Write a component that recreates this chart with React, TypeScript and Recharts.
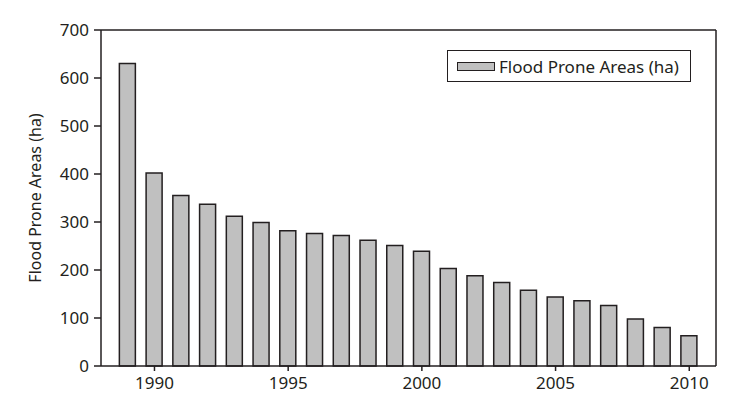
import { BarChart, Bar, XAxis, YAxis, ReferenceLine } from 'recharts'

const years = [
  1989, 1990, 1991, 1992, 1993, 1994, 1995, 1996, 1997, 1998, 1999,
  2000, 2001, 2002, 2003, 2004, 2005, 2006, 2007, 2008, 2009, 2010,
]
const floodArea = [
  630, 402, 355, 337, 312, 299, 282, 276, 272, 262, 251,
  239, 203, 188, 174, 158, 144, 136, 126, 98, 80, 63,
]
const xTicks = [1990, 1995, 2000, 2005, 2010]
const yTicks = [0, 100, 200, 300, 400, 500, 600, 700]

const data = years.map((year, i) => ({ year, area: floodArea[i] }))

const FONT = '"Noto Sans", sans-serif'
const INK = '#231f20'

function LegendBox() {
  return (
    <div
      style={{
        position: 'absolute',
        left: 447,
        top: 50,
        border: `1.5px solid ${INK}`,
        width: 244,
        height: 32,
        boxSizing: 'border-box',
        display: 'flex',
        alignItems: 'center',
        paddingLeft: 9,
        fontFamily: FONT,
        fontSize: 17,
        color: INK,
        background: '#fff',
      }}
    >
      <span
        style={{
          display: 'inline-block',
          width: 36,
          height: 7,
          background: '#c0c0c0',
          border: `1.5px solid ${INK}`,
          marginRight: 4,
        }}
      />
      Flood Prone Areas (ha)
    </div>
  )
}

export default function App() {
  return (
    <div style={{ position: 'absolute', left: 0, top: 0, width: 742, height: 398, background: '#fff' }}>
      <BarChart
        width={742}
        height={398}
        data={data}
        margin={{ top: 30, right: 26, left: 0, bottom: 0 }}
      >
        <XAxis
          dataKey="year"
          type="number"
          domain={[1988, 2011]}
          ticks={xTicks}
          interval={0}
          height={32}
          tickSize={5}
          tickMargin={6}
          stroke={INK}
          strokeWidth={1.5}
          tick={{ fill: INK, fontSize: 17, fontFamily: FONT }}
        />
        <YAxis
          domain={[0, 700]}
          ticks={yTicks}
          interval={0}
          width={101}
          tickSize={7}
          tickMargin={5}
          stroke={INK}
          strokeWidth={1.5}
          tick={{ fill: INK, fontSize: 17, fontFamily: FONT }}
          label={() => (
            <text
              x={35}
              y={198}
              transform="rotate(-90 35 198)"
              textAnchor="middle"
              dominantBaseline="central"
              fill={INK}
              fontSize={16}
              fontFamily={FONT}
            >
              Flood Prone Areas (ha)
            </text>
          )}
        />
        <ReferenceLine y={700} stroke={INK} strokeWidth={1.5} ifOverflow="extendDomain" />
        <ReferenceLine x={2011} stroke={INK} strokeWidth={1.5} ifOverflow="extendDomain" />
        <Bar
          dataKey="area"
          name="Flood Prone Areas (ha)"
          barSize={16}
          fill="#c0c0c0"
          stroke={INK}
          strokeWidth={1.5}
          isAnimationActive={false}
        />
      </BarChart>
      <LegendBox />
    </div>
  )
}
